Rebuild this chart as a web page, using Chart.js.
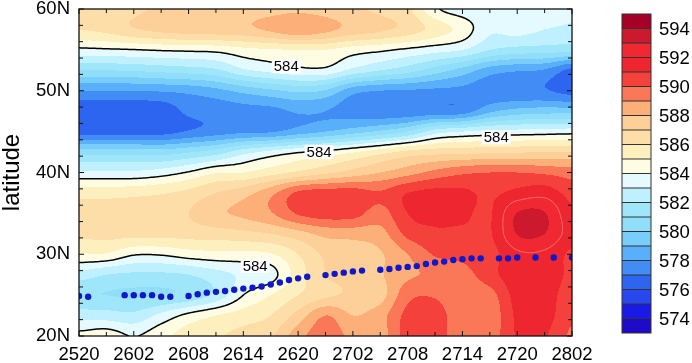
<!DOCTYPE html>
<html>
<head>
<meta charset="utf-8">
<script src="https://cdn.jsdelivr.net/npm/chart.js@4.4.1/dist/chart.umd.min.js"></script>
<style>
  html, body { margin: 0; padding: 0; background: #fff; }
</style>
</head>
<body>
<canvas id="chart" width="692" height="363"></canvas>
<script>
// time axis in hours after 25th 20:00, tick labels are DDHH
const timeLabels = ['2520', '2602', '2608', '2614', '2620', '2702', '2708', '2714', '2720', '2802']
const gridHours = [0, 3, 6, 9, 12, 15, 18, 21, 24, 27, 30, 33, 36, 39, 42, 45, 48, 51, 54]
const gridLats = [60, 57.5, 55, 52.5, 50, 47.5, 45, 42.5, 40, 37.5, 35, 32.5, 30, 27.5, 25, 22.5, 20]

// 500 hPa height (dagpm), one row per latitude, columns follow gridHours
const hgt600 = [586.2, 586.4, 586.8, 587.2, 587.4, 587.5, 587.6, 587.7, 587.8, 587.6, 587.2, 586.8, 586.2, 584.2, 583.5, 583.3, 583.6, 583.4, 583.1]
const hgt575 = [586.0, 586.3, 586.9, 587.3, 587.5, 587.6, 587.7, 588.2, 588.8, 588.3, 587.6, 587.2, 586.6, 585.6, 584.6, 583.2, 583.4, 583.0, 582.8]
const hgt550 = [583.75, 583.85, 583.95, 584.1, 584.2, 584.3, 584.7, 584.9, 585.0, 585.0, 584.5, 584.2, 583.8, 583.4, 583.0, 582.0, 581.6, 581.5, 581.3]
const hgt525 = [581.0, 581.0, 581.1, 581.3, 581.5, 581.8, 582.8, 583.3, 583.7, 583.7, 582.7, 582.0, 581.4, 580.5, 579.6, 578.5, 578.1, 577.9, 576.7]
const hgt500 = [578.0, 578.0, 578.0, 578.1, 578.3, 578.7, 579.3, 579.8, 580.2, 579.9, 578.4, 578.0, 577.9, 577.8, 577.7, 577.4, 577.2, 577.1, 576.6]
const hgt475 = [576.3, 576.3, 576.3, 576.4, 577.2, 577.4, 577.6, 577.7, 578.1, 578.0, 577.6, 577.3, 577.3, 577.4, 577.5, 578.8, 579.4, 579.6, 579.6]
const hgt450 = [576.5, 576.5, 576.5, 576.6, 577.1, 577.5, 577.8, 577.9, 578.5, 579.0, 579.6, 580.2, 581.0, 582.5, 583.0, 583.3, 583.4, 583.5, 583.6]
const hgt425 = [580.6, 580.6, 580.6, 580.5, 580.9, 581.5, 582.6, 583.3, 583.9, 584.3, 584.9, 585.6, 586.3, 586.6, 586.7, 586.8, 586.9, 587.0, 587.0]
const hgt400 = [583.2, 583.2, 583.2, 583.5, 584.1, 584.9, 585.0, 585.6, 586.2, 586.8, 587.4, 588.0, 588.6, 589.3, 589.8, 590.0, 590.0, 589.8, 589.5]
const hgt375 = [585.6, 585.6, 585.7, 585.9, 586.3, 587.0, 587.6, 588.7, 590.2, 590.5, 590.5, 590.1, 591.0, 591.3, 591.2, 590.8, 591.3, 591.6, 590.6]
const hgt350 = [586.4, 586.5, 586.6, 586.7, 587.0, 587.8, 588.2, 588.9, 590.1, 590.5, 590.4, 589.6, 591.0, 591.3, 591.2, 590.9, 593.05, 593.05, 591.2]
const hgt325 = [586.2, 586.3, 586.3, 586.3, 586.4, 586.5, 586.7, 587.0, 587.6, 588.3, 588.4, 588.6, 590.3, 590.8, 590.8, 590.9, 593.05, 593.0, 591.5]
const hgt300 = [584.9, 584.9, 584.1, 584.1, 584.5, 584.7, 584.7, 584.9, 586.0, 587.2, 587.4, 587.9, 589.0, 590.1, 590.3, 590.6, 591.8, 591.8, 590.8]
const hgt275 = [582.6, 582.0, 581.8, 581.8, 582.0, 582.6, 583.2, 583.6, 585.5, 587.0, 587.3, 587.9, 588.8, 589.2, 589.6, 590.6, 591.7, 591.8, 590.7]
const hgt250 = [581.0, 581.0, 580.9, 581.0, 581.3, 582.3, 584.0, 585.0, 586.0, 586.8, 587.2, 587.6, 589.7, 589.9, 589.3, 589.6, 591.4, 591.5, 590.4]
const hgt225 = [582.6, 582.5, 582.3, 583.3, 584.3, 585.0, 585.5, 586.0, 587.4, 589.0, 588.0, 588.6, 590.3, 590.4, 589.4, 589.3, 591.2, 591.4, 590.2]
const hgt200 = [584.3, 584.6, 583.95, 584.7, 585.5, 585.9, 586.3, 586.8, 588.6, 589.6, 588.7, 588.5, 590.5, 590.5, 589.3, 589.4, 591.1, 591.1, 589.8]

const fieldRows = [hgt600, hgt575, hgt550, hgt525, hgt500, hgt475, hgt450, hgt425, hgt400,
    hgt375, hgt350, hgt325, hgt300, hgt275, hgt250, hgt225, hgt200]

// shading levels and colours (first colour is below 574, last is 594 and above)
const contourLevels = [574, 575, 576, 577, 578, 579, 580, 581, 582, 583, 584,
    585, 586, 587, 588, 589, 590, 591, 592, 593, 594]
const bandColors = ['#1e0ac8', '#1a1ae6', '#2848ee', '#2d64f0', '#418cf5', '#5aaffa', '#78cdfa',
    '#91defa', '#a0e6fa', '#bef0ff', '#e4faff', '#fffce4', '#fef0be', '#fddea8', '#fcd098',
    '#fcaf78', '#fa7858', '#f5413c', '#ee2630', '#f02832', '#cd192d', '#a50026']

// black contour line and where its labels sit
const lineLevel = 584
const labelHours = [22.7, 26.3, 45.7, 19.3]
const labelLats = [53.0, 42.5, 44.3, 28.6]

// typhoon track, hourly positions
const trackHours = [0, 1, 5, 6, 7, 8, 9, 10, 12, 13, 14, 15, 16, 17, 18, 19, 20, 21, 22, 23, 24, 25,
    27, 28, 29, 30, 31, 33, 34, 35, 36, 37, 38, 39, 40, 41, 42, 43, 44, 46, 47, 48, 50, 52, 54]
const trackLats = [24.9, 24.8, 25.0, 25.0, 25.0, 25.0, 24.8, 24.8, 24.9, 25.1, 25.3, 25.4, 25.5, 25.65,
    25.8, 25.9, 26.05, 26.3, 26.55, 26.85, 27.05, 27.25, 27.45, 27.6, 27.75, 27.9, 28.0, 28.1, 28.2,
    28.35, 28.45, 28.55, 28.8, 29.0, 29.1, 29.3, 29.4, 29.5, 29.5, 29.5, 29.5, 29.6, 29.6, 29.6, 29.6]

const FONT = '"Liberation Sans", Arial, Helvetica, sans-serif'
Chart.defaults.font.family = FONT
Chart.defaults.color = '#000'

// Catmull-Rom interpolation between grid nodes, so the shaded bands come out smooth
function cubic(p0, p1, p2, p3, t) {
    return p1 + 0.5 * t * (p2 - p0 + t * (2 * p0 - 5 * p1 + 4 * p2 - p3 + t * (3 * (p1 - p2) + p3 - p0)))
}

function sampleField(h, lat) {
    const nx = gridHours.length, ny = gridLats.length
    let fx = (h - gridHours[0]) / (gridHours[1] - gridHours[0])
    let fy = (gridLats[0] - lat) / (gridLats[0] - gridLats[1])
    fx = Math.min(Math.max(fx, 0), nx - 1.0001)
    fy = Math.min(Math.max(fy, 0), ny - 1.0001)
    const i = Math.floor(fx), j = Math.floor(fy)
    const tx = fx - i, ty = fy - j
    const ci = (k) => Math.min(Math.max(k, 0), nx - 1)
    const cj = (k) => Math.min(Math.max(k, 0), ny - 1)
    const rowVal = (jj) => {
        const r = fieldRows[cj(jj)]
        return cubic(r[ci(i - 1)], r[ci(i)], r[ci(i + 1)], r[ci(i + 2)], tx)
    }
    return cubic(rowVal(j - 1), rowVal(j), rowVal(j + 1), rowVal(j + 2), ty)
}

function bandIndex(v) {
    let k = 0
    while (k < contourLevels.length && v >= contourLevels[k]) k++
    return k
}

function hexToRgb(hex) {
    const n = parseInt(hex.slice(1), 16)
    return [(n >> 16) & 255, (n >> 8) & 255, n & 255]
}

function drawContour(chart, level, color, width) {
    const {ctx, chartArea: a, scales: {x, y}} = chart
    const step = 2
    const xs = [], ys = []
    for (let px = a.left; px < a.right; px += step) xs.push(px)
    xs.push(a.right)
    for (let py = a.top; py < a.bottom; py += step) ys.push(py)
    ys.push(a.bottom)
    const vals = ys.map(py => {
        const lat = y.getValueForPixel(py)
        return xs.map(px => sampleField(x.getValueForPixel(px), lat))
    })
    ctx.save()
    ctx.beginPath()
    ctx.rect(a.left, a.top, a.right - a.left, a.bottom - a.top)
    ctx.clip()
    ctx.beginPath()
    for (let j = 0; j < ys.length - 1; j++) {
        for (let i = 0; i < xs.length - 1; i++) {
            const v00 = vals[j][i], v10 = vals[j][i + 1], v01 = vals[j + 1][i], v11 = vals[j + 1][i + 1]
            const pts = []
            if ((v00 < level) !== (v10 < level)) {
                const t = (level - v00) / (v10 - v00)
                pts.push([xs[i] + t * (xs[i + 1] - xs[i]), ys[j]])
            }
            if ((v10 < level) !== (v11 < level)) {
                const t = (level - v10) / (v11 - v10)
                pts.push([xs[i + 1], ys[j] + t * (ys[j + 1] - ys[j])])
            }
            if ((v01 < level) !== (v11 < level)) {
                const t = (level - v01) / (v11 - v01)
                pts.push([xs[i] + t * (xs[i + 1] - xs[i]), ys[j + 1]])
            }
            if ((v00 < level) !== (v01 < level)) {
                const t = (level - v00) / (v01 - v00)
                pts.push([xs[i], ys[j] + t * (ys[j + 1] - ys[j])])
            }
            for (let k = 0; k + 1 < pts.length; k += 2) {
                ctx.moveTo(pts[k][0], pts[k][1])
                ctx.lineTo(pts[k + 1][0], pts[k + 1][1])
            }
        }
    }
    ctx.strokeStyle = color
    ctx.lineWidth = width
    ctx.lineCap = 'round'
    ctx.lineJoin = 'round'
    ctx.stroke()
    ctx.restore()
}

const fieldPlugin = {
    id: 'field',
    beforeDatasetsDraw(chart) {
        const {ctx, chartArea: a, scales: {x, y}} = chart
        const w = Math.round(a.right - a.left), hgt = Math.round(a.bottom - a.top)
        const off = document.createElement('canvas')
        off.width = w
        off.height = hgt
        const octx = off.getContext('2d')
        const img = octx.createImageData(w, hgt)
        const rgb = bandColors.map(hexToRgb)
        for (let py = 0; py < hgt; py++) {
            const lat = y.getValueForPixel(a.top + py + 0.5)
            for (let px = 0; px < w; px++) {
                const c = rgb[bandIndex(sampleField(x.getValueForPixel(a.left + px + 0.5), lat))]
                const o = (py * w + px) * 4
                img.data[o] = c[0]
                img.data[o + 1] = c[1]
                img.data[o + 2] = c[2]
                img.data[o + 3] = 255
            }
        }
        octx.putImageData(img, 0, 0)
        ctx.drawImage(off, a.left, a.top)

        drawContour(chart, 592, 'rgba(255,150,150,0.55)', 0.8)
        drawContour(chart, lineLevel, '#000', 1.5)

        // contour labels on white boxes
        ctx.save()
        ctx.font = '15px ' + FONT
        ctx.textAlign = 'center'
        ctx.textBaseline = 'middle'
        const text = String(lineLevel)
        const tw = ctx.measureText(text).width
        labelHours.forEach((h, k) => {
            const px = x.getPixelForValue(h), py = y.getPixelForValue(labelLats[k])
            ctx.fillStyle = '#fff'
            ctx.fillRect(px - tw / 2 - 2, py - 7, tw + 4, 14)
            ctx.fillStyle = '#000'
            ctx.fillText(text, px, py + 1)
        })
        ctx.restore()
    }
}

const framePlugin = {
    id: 'frame',
    afterDatasetsDraw(chart) {
        const {ctx, chartArea: a, scales: {x, y}} = chart
        ctx.save()
        ctx.strokeStyle = '#111'
        ctx.lineWidth = 1
        ctx.beginPath()
        for (let h = x.min; h <= x.max; h += 3) {
            const px = x.getPixelForValue(h), len = h % 6 === 0 ? 5 : 4
            ctx.moveTo(px, a.bottom)
            ctx.lineTo(px, a.bottom - len)
            ctx.moveTo(px, a.top)
            ctx.lineTo(px, a.top + len)
        }
        for (let lat = y.min; lat <= y.max; lat += 2) {
            const py = y.getPixelForValue(lat), len = lat % 10 === 0 ? 5 : 4
            ctx.moveTo(a.left, py)
            ctx.lineTo(a.left + len, py)
            ctx.moveTo(a.right, py)
            ctx.lineTo(a.right - len, py)
        }
        ctx.stroke()
        ctx.lineWidth = 1.3
        ctx.strokeRect(a.left, a.top, a.right - a.left, a.bottom - a.top)
        ctx.restore()
    }
}

const colorbarPlugin = {
    id: 'colorbar',
    afterDraw(chart) {
        const {ctx, chartArea: a} = chart
        const left = a.right + 50, width = 29
        const top = a.top + 5, bottom = a.bottom - 3
        const boxH = (bottom - top) / bandColors.length
        ctx.save()
        bandColors.forEach((c, k) => {
            ctx.fillStyle = c
            ctx.fillRect(left, bottom - (k + 1) * boxH, width, boxH)
        })
        ctx.strokeStyle = '#333'
        ctx.lineWidth = 1
        ctx.beginPath()
        for (let k = 1; k < bandColors.length; k++) {
            const yy = bottom - k * boxH
            ctx.moveTo(left, yy)
            ctx.lineTo(left + width, yy)
        }
        ctx.stroke()
        ctx.strokeRect(left, top, width, bottom - top)
        ctx.font = '18.5px ' + FONT
        ctx.fillStyle = '#000'
        ctx.textAlign = 'left'
        ctx.textBaseline = 'middle'
        contourLevels.forEach((lv, k) => {
            if (lv % 2 === 0) ctx.fillText(String(lv), left + width + 8, bottom - (k + 1) * boxH + 1)
        })
        ctx.restore()
    }
}

new Chart(document.getElementById('chart'), {
    type: 'scatter',
    data: {
        datasets: [{
            label: 'track',
            data: trackHours.map((h, i) => ({x: h, y: trackLats[i]})),
            backgroundColor: '#1018c8',
            borderWidth: 0,
            pointRadius: 3.2,
            pointHoverRadius: 3.2,
            clip: 0
        }]
    },
    options: {
        responsive: false,
        animation: false,
        events: [],
        layout: {padding: {left: 0, top: 9, right: 120, bottom: 0}},
        plugins: {
            legend: {display: false},
            tooltip: {enabled: false}
        },
        scales: {
            x: {
                type: 'linear',
                min: 0,
                max: 54,
                grid: {display: false, drawTicks: false},
                border: {display: false},
                ticks: {
                    stepSize: 6,
                    autoSkip: false,
                    maxRotation: 0,
                    padding: 8,
                    font: {size: 18.5},
                    callback: (value) => timeLabels[value / 6]
                },
                afterFit: (scale) => {
                    scale.height = 27
                    scale.paddingLeft = 0
                    scale.paddingRight = 0
                }
            },
            y: {
                type: 'linear',
                min: 20,
                max: 60,
                grid: {display: false, drawTicks: false},
                border: {display: false},
                title: {
                    display: true,
                    text: 'latitude',
                    font: {size: 24, lineHeight: 1.0},
                    padding: 0
                },
                ticks: {
                    stepSize: 10,
                    padding: 9,
                    font: {size: 18.5},
                    callback: (value) => value + 'N'
                },
                afterFit: (scale) => {
                    scale.width = 79
                    scale.paddingTop = 0
                    scale.paddingBottom = 0
                }
            }
        }
    },
    plugins: [fieldPlugin, framePlugin, colorbarPlugin]
})
</script>
</body>
</html>
